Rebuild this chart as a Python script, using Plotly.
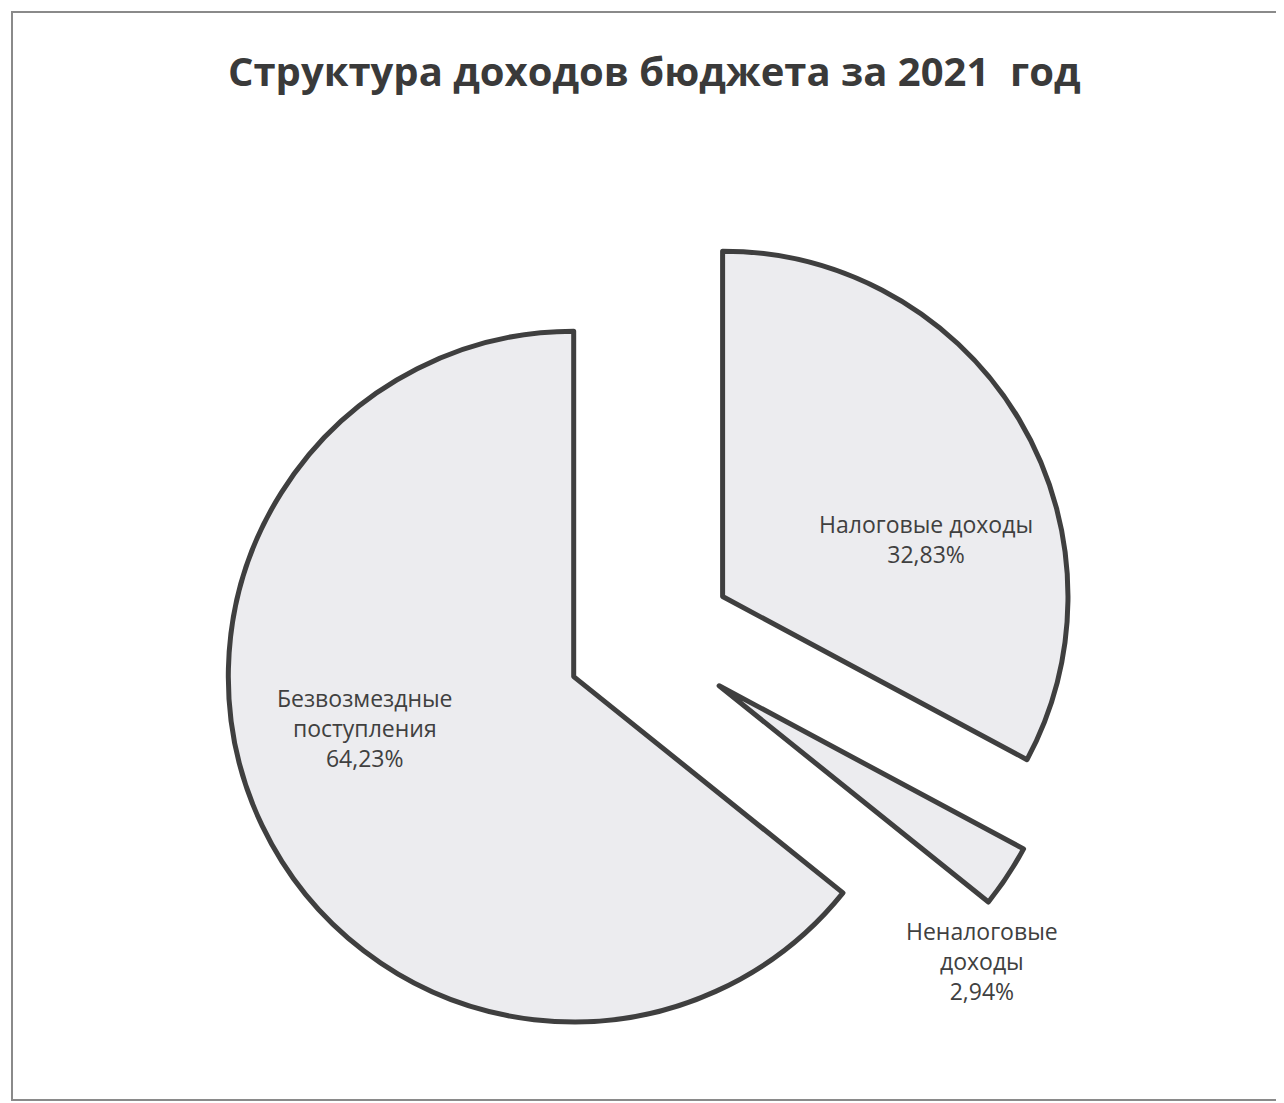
import plotly.graph_objects as go

title_text = "Структура доходов бюджета за 2021\u00a0 год"
categories = ["Налоговые доходы", "Неналоговые доходы", "Безвозмездные поступления"]
label_lines = ["Налоговые доходы", "Неналоговые<br>доходы", "Безвозмездные<br>поступления"]
values = [32.83, 2.94, 64.23]

W, H = 1284, 1103
OFF = 8  # page body margin offset


def px_x(x):
    return (x - OFF) / W


def px_y(y):
    return 1 - (y - OFF) / H


fig = go.Figure()
fig.add_trace(go.Pie(
    labels=categories,
    values=values,
    sort=False,
    direction="clockwise",
    rotation=0,
    pull=[0.245, 0.24, 0.245],
    textinfo="none",
    hoverinfo="label+percent",
    marker=dict(colors=["#ececef"] * 3, line=dict(color="#3f3f3f", width=5)),
    domain=dict(x=[px_x(220), px_x(1080)], y=[px_y(1070), px_y(210)]),
    showlegend=False,
))

# label positions (screen px, centre of each text block)
label_pos = [(926, 539), (982, 961), (365, 728)]
annotations = []
for txt, v, (px, py) in zip(label_lines, values, label_pos):
    annotations.append(dict(
        x=px_x(px), y=px_y(py), xref="paper", yref="paper",
        text=f"{txt}<br>{v:.2f}%".replace(".", ","),
        showarrow=False, xanchor="center", yanchor="middle",
        font=dict(family="Open Sans", size=23, color="#404040"),
        align="center",
    ))

annotations.append(dict(
    x=px_x(654), y=px_y(70), xref="paper", yref="paper",
    text=f"<b>{title_text}</b>", showarrow=False,
    xanchor="center", yanchor="middle",
    font=dict(family="Open Sans", size=40, color="#3a3a3a"),
))

fig.update_layout(
    width=W, height=H,
    margin=dict(l=0, r=0, t=0, b=0),
    paper_bgcolor="white",
    plot_bgcolor="white",
    annotations=annotations,
    shapes=[dict(type="rect", xref="paper", yref="paper",
                 x0=px_x(12), x1=1.05, y0=px_y(1100), y1=px_y(12),
                 line=dict(color="#8a8a8a", width=2))],
)

fig.write_html("out.html")
